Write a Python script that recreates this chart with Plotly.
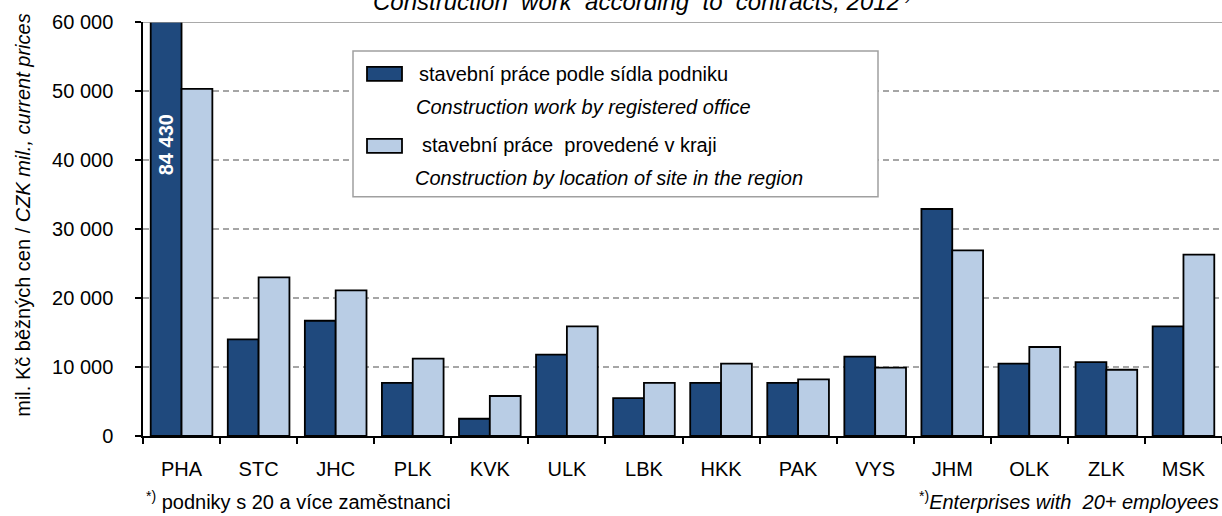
import plotly.graph_objects as go

# ---- data ----
regions = ["PHA", "STC", "JHC", "PLK", "KVK", "ULK", "LBK", "HKK", "PAK", "VYS", "JHM", "OLK", "ZLK", "MSK"]
by_office = [84430, 14000, 16700, 7700, 2500, 11800, 5500, 7700, 7700, 11500, 32900, 10500, 10700, 15900]
by_site = [50300, 23000, 21100, 11200, 5800, 15900, 7700, 10500, 8200, 9900, 26900, 12900, 9600, 26300]
name_office_cz = "stavební práce podle sídla podniku"
name_office_en = "Construction work by registered office"
name_site_cz = "stavební práce  provedené v kraji"
name_site_en = "Construction by location of site in the region"
title_text = "Construction  work  according  to  contracts, 2012<sup>*)</sup>"
y_title = "mil. Kč běžných cen / <i>CZK mil., current prices</i>"
note_cz = "<sup>*)</sup> podniky s 20 a více zaměstnanci"
note_en = "<sup>*)</sup><i>Enterprises with  20+ employees</i>"
y_max = 60000
y_ticks = [0, 10000, 20000, 30000, 40000, 50000, 60000]

# ---- style ----
FONT = "Liberation Sans, Arial, sans-serif"
FS = 20
DARK = "#1F497D"
LIGHT = "#B9CDE5"
W_PX, H_PX = 1222, 516
L, R, T, B = 143, 1222, 22, 436.5
PW, PH = R - L, B - T


def px(xp):
    return (xp - L) / PW


def py(yp):
    return (B - yp) / PH


fmt = lambda v: f"{v:,}".replace(",", " ")

fig = go.Figure()
fig.add_trace(go.Bar(x=regions, y=by_office, name=name_office_cz,
                     marker=dict(color=DARK, line=dict(color="black", width=1.8)),
                     text=[f"<b>{fmt(v)}</b>" if v > y_max else "" for v in by_office],
                     textposition="inside", insidetextanchor="middle", textangle=-90,
                     textfont=dict(color="white", size=FS, family=FONT),
                     showlegend=False))
fig.add_trace(go.Bar(x=regions, y=by_site, name=name_site_cz,
                     marker=dict(color=LIGHT, line=dict(color="black", width=1.8)),
                     showlegend=False))

fig.update_layout(
    width=W_PX, height=H_PX,
    margin=dict(l=L, r=W_PX - R, t=T, b=H_PX - B),
    paper_bgcolor="white", plot_bgcolor="white",
    barmode="group", bargap=0.2, bargroupgap=0,
    font=dict(family=FONT, size=FS, color="black"),
    xaxis=dict(type="category", showline=True, linecolor="black", linewidth=2,
               ticks="outside", tickson="boundaries", ticklen=6, tickcolor="black",
               tickwidth=1.5, ticklabelstandoff=14, tickfont=dict(size=FS),
               showgrid=False, zeroline=False),
    yaxis=dict(range=[0, y_max], tickvals=y_ticks, ticktext=[fmt(v) for v in y_ticks],
               showline=True, linecolor="black", linewidth=1.5,
               ticks="outside", ticklen=6, tickcolor="black", tickwidth=1.5,
               ticklabelstandoff=18, tickfont=dict(size=FS),
               showgrid=True, gridcolor="#A6A6A6", gridwidth=1.5, griddash="6px,4px",
               zeroline=False),
)

# y-axis title (rotated text)
fig.add_annotation(x=px(23), y=py(216), xref="paper", yref="paper", xanchor="center",
                   yanchor="middle", text=y_title, textangle=-90, showarrow=False,
                   font=dict(size=FS))

# solid top line at the maximum
fig.add_shape(type="line", xref="paper", yref="y", x0=0, x1=1, y0=y_max, y1=y_max,
              line=dict(color="#8C8C8C", width=1.5), layer="above")

# title (partially cut at top)
fig.add_annotation(x=px(642), y=py(12), xref="paper", yref="paper", xanchor="center",
                   yanchor="bottom", yshift=-5, text=f"<i>{title_text}</i>", showarrow=False,
                   font=dict(size=24))

# manual legend box
fig.add_shape(type="rect", xref="paper", yref="paper", x0=px(353), x1=px(878),
              y0=py(197), y1=py(51), line=dict(color="#A0A0A0", width=1.5),
              fillcolor="white", layer="above")
fig.add_shape(type="rect", xref="paper", yref="paper", x0=px(367), x1=px(402),
              y0=py(81), y1=py(67), line=dict(color="black", width=1.8),
              fillcolor=DARK, layer="above")
fig.add_shape(type="rect", xref="paper", yref="paper", x0=px(367), x1=px(402),
              y0=py(153), y1=py(139), line=dict(color="black", width=1.8),
              fillcolor=LIGHT, layer="above")
for xp, yp, txt in [(417, 74, name_office_cz), (414, 107, f"<i>{name_office_en}</i>"),
                    (420, 145, name_site_cz), (413, 178, f"<i>{name_site_en}</i>")]:
    fig.add_annotation(x=px(xp), y=py(yp), xref="paper", yref="paper", xanchor="left",
                       yanchor="middle", text=txt, showarrow=False, font=dict(size=FS))

# footnotes
fig.add_annotation(x=px(144), y=py(501), xref="paper", yref="paper", xanchor="left",
                   yanchor="middle", text=note_cz, showarrow=False, font=dict(size=FS))
fig.add_annotation(x=px(1221), y=py(501), xref="paper", yref="paper", xanchor="right",
                   yanchor="middle", text=note_en, showarrow=False, font=dict(size=FS))

fig.write_html("out.html", config={"displayModeBar": False},
               post_script="document.body.style.margin='0px';document.body.style.overflow='hidden';")
